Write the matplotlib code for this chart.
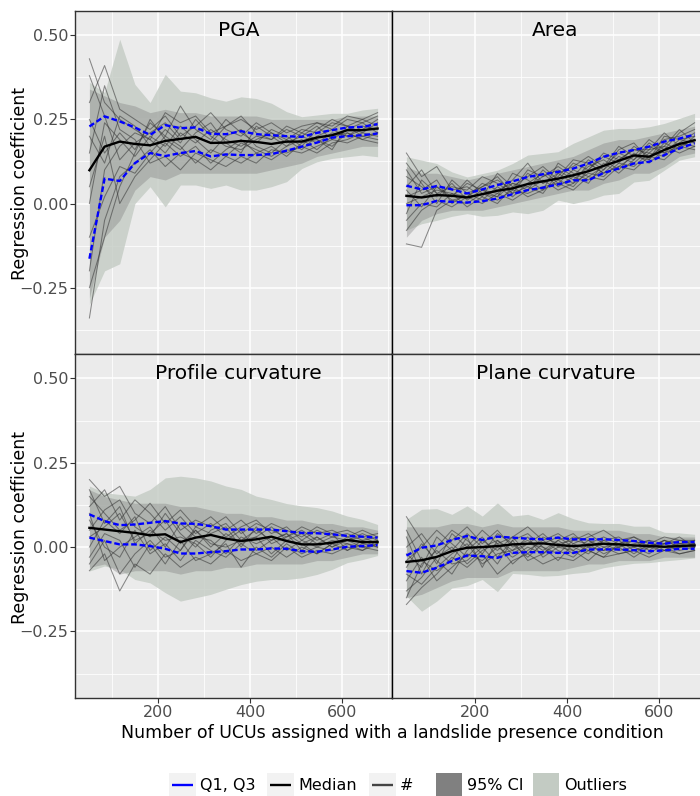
#!/usr/bin/env python3
"""
Regression coefficient vs. number of UCUs with a landslide presence
condition, four facets (ggplot-like look), saved as out.png.
"""

import matplotlib

matplotlib.use("Agg")
import matplotlib.pyplot as plt
from matplotlib.patches import Rectangle

# ============================================================================
# DATA -- values
# ============================================================================

n_ucus = [50, 83, 116, 149, 182, 215, 248, 281, 314, 347,
          380, 413, 446, 479, 512, 545, 578, 611, 644, 677]

# --- PGA ---
pga_median = [0.099, 0.169, 0.184, 0.177, 0.173, 0.186, 0.192, 0.198, 0.180, 0.181,
              0.186, 0.183, 0.177, 0.184, 0.184, 0.196, 0.203, 0.218, 0.218, 0.223]
pga_q3 = [0.229, 0.259, 0.244, 0.226, 0.204, 0.233, 0.224, 0.226, 0.207, 0.206,
          0.215, 0.206, 0.203, 0.200, 0.198, 0.210, 0.218, 0.226, 0.228, 0.236]
pga_q1 = [-0.164, 0.074, 0.067, 0.120, 0.150, 0.141, 0.150, 0.156, 0.140, 0.146,
          0.144, 0.144, 0.147, 0.157, 0.169, 0.181, 0.196, 0.200, 0.203, 0.208]
pga_out_hi = [0.36, 0.33, 0.488, 0.354, 0.30, 0.384, 0.334, 0.329, 0.314, 0.304,
              0.317, 0.312, 0.298, 0.273, 0.258, 0.263, 0.268, 0.268, 0.278, 0.283]
pga_out_lo = [-0.30, -0.20, -0.179, 0.0, 0.05, -0.01, 0.055, 0.055, 0.045, 0.055,
              0.04, 0.04, 0.05, 0.065, 0.104, 0.124, 0.134, 0.139, 0.144, 0.139]
pga_ci_hi = [0.34, 0.32, 0.30, 0.29, 0.27, 0.28, 0.27, 0.27, 0.26, 0.26,
             0.26, 0.26, 0.25, 0.25, 0.25, 0.25, 0.25, 0.26, 0.26, 0.26]
pga_ci_lo = [-0.28, -0.10, -0.05, 0.04, 0.08, 0.07, 0.09, 0.09, 0.09, 0.09,
             0.09, 0.09, 0.10, 0.11, 0.12, 0.14, 0.15, 0.16, 0.17, 0.17]
pga_runs = [
    [0.43, 0.30, 0.25, 0.22, 0.19, 0.27, 0.24, 0.26, 0.21, 0.23, 0.25, 0.22, 0.24, 0.21, 0.23, 0.24, 0.23, 0.26, 0.25, 0.27],
    [-0.34, -0.05, 0.08, 0.12, 0.16, 0.11, 0.15, 0.13, 0.10, 0.14, 0.12, 0.15, 0.13, 0.16, 0.15, 0.17, 0.19, 0.18, 0.20, 0.19],
    [0.30, 0.41, 0.28, 0.25, 0.22, 0.26, 0.20, 0.23, 0.27, 0.22, 0.20, 0.24, 0.21, 0.19, 0.22, 0.21, 0.24, 0.23, 0.25, 0.23],
    [0.05, 0.20, 0.00, 0.08, 0.13, 0.18, 0.14, 0.17, 0.12, 0.16, 0.19, 0.15, 0.17, 0.14, 0.18, 0.19, 0.17, 0.21, 0.19, 0.21],
    [-0.20, 0.10, 0.17, 0.21, 0.19, 0.15, 0.21, 0.18, 0.22, 0.19, 0.17, 0.20, 0.19, 0.22, 0.20, 0.18, 0.21, 0.20, 0.23, 0.22],
    [0.25, 0.15, 0.21, 0.16, 0.24, 0.20, 0.29, 0.22, 0.19, 0.25, 0.21, 0.18, 0.22, 0.20, 0.17, 0.22, 0.25, 0.23, 0.21, 0.24],
    [0.15, 0.35, 0.22, 0.19, 0.12, 0.14, 0.10, 0.15, 0.13, 0.11, 0.14, 0.12, 0.16, 0.15, 0.17, 0.15, 0.18, 0.19, 0.21, 0.20],
    [0.38, 0.26, 0.13, 0.18, 0.21, 0.24, 0.19, 0.20, 0.18, 0.23, 0.26, 0.21, 0.19, 0.23, 0.21, 0.24, 0.22, 0.25, 0.24, 0.26],
    [-0.10, 0.02, 0.11, 0.09, 0.15, 0.20, 0.17, 0.12, 0.16, 0.14, 0.18, 0.16, 0.14, 0.17, 0.19, 0.16, 0.20, 0.21, 0.19, 0.18],
    [0.20, 0.12, 0.26, 0.23, 0.17, 0.22, 0.18, 0.25, 0.20, 0.17, 0.16, 0.19, 0.21, 0.18, 0.20, 0.23, 0.19, 0.22, 0.24, 0.21],
    [0.00, 0.24, 0.19, 0.14, 0.20, 0.17, 0.23, 0.19, 0.15, 0.20, 0.22, 0.17, 0.15, 0.19, 0.16, 0.20, 0.22, 0.20, 0.22, 0.25],
    [-0.25, -0.10, 0.05, 0.15, 0.25, 0.19, 0.16, 0.21, 0.24, 0.18, 0.15, 0.23, 0.20, 0.17, 0.21, 0.19, 0.16, 0.23, 0.20, 0.21],
]

# --- Area ---
area_median = [0.023, 0.018, 0.025, 0.023, 0.018, 0.028, 0.038, 0.045, 0.058, 0.066,
               0.074, 0.084, 0.096, 0.112, 0.127, 0.143, 0.139, 0.159, 0.177, 0.188]
area_q3 = [0.053, 0.042, 0.052, 0.042, 0.030, 0.042, 0.055, 0.066, 0.079, 0.087,
           0.094, 0.104, 0.119, 0.139, 0.151, 0.159, 0.169, 0.184, 0.193, 0.205]
area_q1 = [-0.005, -0.005, 0.008, 0.005, 0.003, 0.007, 0.015, 0.028, 0.040, 0.047,
           0.057, 0.069, 0.069, 0.091, 0.104, 0.119, 0.124, 0.144, 0.164, 0.179]
area_out_hi = [0.139, 0.129, 0.119, 0.094, 0.079, 0.089, 0.099, 0.119, 0.144, 0.149,
               0.154, 0.179, 0.198, 0.218, 0.223, 0.223, 0.228, 0.238, 0.253, 0.268]
area_out_lo = [-0.079, -0.06, -0.05, -0.038, -0.03, -0.038, -0.035, -0.025, -0.03, -0.02,
               0.01, 0.0, 0.01, 0.025, 0.03, 0.064, 0.069, 0.099, 0.129, 0.139]
area_ci_hi = [0.11, 0.09, 0.09, 0.08, 0.07, 0.08, 0.09, 0.10, 0.11, 0.12,
              0.13, 0.14, 0.16, 0.18, 0.19, 0.19, 0.20, 0.21, 0.22, 0.23]
area_ci_lo = [-0.10, -0.05, -0.03, -0.02, -0.02, -0.02, -0.01, 0.00, 0.01, 0.02,
              0.03, 0.04, 0.04, 0.06, 0.07, 0.09, 0.09, 0.11, 0.14, 0.15]
area_runs = [
    [0.15, 0.08, 0.11, 0.04, 0.05, 0.02, 0.09, 0.05, 0.08, 0.11, 0.07, 0.12, 0.10, 0.15, 0.13, 0.16, 0.15, 0.19, 0.20, 0.22],
    [-0.12, -0.13, -0.02, 0.01, 0.00, 0.03, 0.01, 0.04, 0.03, 0.05, 0.06, 0.04, 0.08, 0.07, 0.11, 0.10, 0.14, 0.13, 0.17, 0.16],
    [0.08, 0.05, 0.02, 0.06, 0.01, 0.04, 0.03, 0.07, 0.12, 0.06, 0.09, 0.11, 0.14, 0.11, 0.17, 0.14, 0.13, 0.18, 0.16, 0.20],
    [0.02, 0.04, 0.07, 0.00, 0.03, 0.01, 0.05, 0.02, 0.06, 0.09, 0.05, 0.08, 0.06, 0.12, 0.09, 0.13, 0.17, 0.15, 0.19, 0.18],
    [-0.05, 0.00, -0.01, 0.03, 0.02, 0.06, 0.04, 0.06, 0.05, 0.08, 0.10, 0.07, 0.11, 0.13, 0.10, 0.15, 0.12, 0.16, 0.18, 0.21],
    [0.10, 0.03, 0.05, 0.02, 0.07, 0.03, 0.02, 0.09, 0.07, 0.04, 0.12, 0.09, 0.07, 0.10, 0.14, 0.12, 0.16, 0.21, 0.17, 0.19],
    [-0.08, -0.02, 0.01, -0.01, 0.02, 0.00, 0.03, 0.01, 0.04, 0.07, 0.04, 0.06, 0.09, 0.08, 0.12, 0.17, 0.14, 0.17, 0.15, 0.17],
    [0.05, 0.10, 0.03, 0.05, 0.04, 0.08, 0.06, 0.03, 0.09, 0.06, 0.08, 0.13, 0.12, 0.09, 0.11, 0.14, 0.19, 0.16, 0.21, 0.24],
    [0.00, 0.02, 0.04, 0.03, -0.01, 0.02, 0.00, 0.05, 0.02, 0.04, 0.07, 0.05, 0.10, 0.14, 0.12, 0.11, 0.15, 0.14, 0.18, 0.17],
    [0.12, 0.06, 0.00, 0.07, 0.03, 0.05, 0.07, 0.04, 0.10, 0.08, 0.11, 0.08, 0.13, 0.10, 0.16, 0.18, 0.13, 0.20, 0.19, 0.20],
    [-0.03, 0.07, 0.03, 0.02, 0.06, 0.04, 0.02, 0.06, 0.04, 0.10, 0.06, 0.10, 0.08, 0.11, 0.15, 0.13, 0.18, 0.15, 0.17, 0.19],
    [0.04, -0.01, 0.05, 0.01, 0.02, 0.05, 0.08, 0.03, 0.05, 0.03, 0.09, 0.06, 0.12, 0.09, 0.13, 0.16, 0.16, 0.17, 0.22, 0.18],
]

# --- Profile curvature ---
prof_median = [0.057, 0.052, 0.047, 0.042, 0.035, 0.038, 0.015, 0.028, 0.036, 0.025,
               0.018, 0.023, 0.031, 0.018, 0.008, 0.008, 0.013, 0.021, 0.015, 0.015]
prof_q3 = [0.097, 0.077, 0.065, 0.067, 0.072, 0.077, 0.070, 0.069, 0.062, 0.052,
           0.052, 0.052, 0.052, 0.047, 0.042, 0.041, 0.038, 0.033, 0.031, 0.028]
prof_q1 = [0.028, 0.018, 0.008, 0.008, 0.003, -0.005, -0.019, -0.019, -0.015, -0.012,
           -0.007, -0.007, -0.004, -0.005, -0.012, -0.014, -0.007, 0.001, 0.003, 0.006]
prof_out_hi = [0.181, 0.161, 0.156, 0.151, 0.171, 0.205, 0.210, 0.205, 0.196, 0.181,
               0.171, 0.151, 0.141, 0.129, 0.122, 0.117, 0.107, 0.092, 0.082, 0.067]
prof_out_lo = [-0.071, -0.056, -0.066, -0.096, -0.106, -0.135, -0.160, -0.150, -0.140, -0.125,
               -0.111, -0.101, -0.096, -0.096, -0.091, -0.081, -0.066, -0.046, -0.037, -0.025]
prof_ci_hi = [0.17, 0.15, 0.14, 0.13, 0.13, 0.13, 0.12, 0.12, 0.11, 0.10,
              0.10, 0.09, 0.09, 0.08, 0.08, 0.07, 0.07, 0.06, 0.06, 0.05]
prof_ci_lo = [-0.06, -0.05, -0.08, -0.07, -0.07, -0.07, -0.08, -0.07, -0.07, -0.06,
              -0.06, -0.05, -0.05, -0.05, -0.05, -0.04, -0.04, -0.03, -0.02, -0.02]
prof_runs = [
    [0.20, 0.15, 0.18, 0.10, 0.07, 0.12, 0.05, 0.08, 0.06, 0.09, 0.04, 0.07, 0.05, 0.03, 0.06, 0.04, 0.05, 0.03, 0.05, 0.03],
    [-0.07, -0.02, -0.13, -0.05, -0.08, -0.02, -0.06, -0.03, -0.05, -0.01, -0.04, -0.02, -0.04, 0.00, -0.03, -0.01, -0.02, 0.00, -0.01, 0.01],
    [0.12, 0.17, 0.08, 0.14, 0.10, 0.05, 0.09, 0.04, 0.07, 0.03, 0.06, 0.08, 0.04, 0.06, 0.02, 0.05, 0.03, 0.04, 0.02, 0.03],
    [0.03, 0.06, 0.10, 0.02, 0.04, 0.08, 0.01, 0.05, 0.00, 0.04, 0.01, 0.03, 0.06, 0.02, 0.04, 0.01, 0.03, 0.02, 0.04, 0.02],
    [0.08, 0.00, -0.03, 0.05, -0.02, 0.01, -0.04, 0.02, -0.01, -0.03, 0.01, -0.02, 0.00, -0.03, 0.00, -0.02, 0.01, -0.01, 0.01, 0.00],
    [0.15, 0.10, 0.05, 0.08, 0.13, 0.07, 0.11, 0.06, 0.09, 0.05, 0.08, 0.04, 0.07, 0.05, 0.03, 0.06, 0.04, 0.05, 0.03, 0.04],
    [-0.03, 0.04, 0.02, -0.06, 0.01, -0.05, 0.02, -0.04, -0.02, 0.01, -0.06, 0.00, -0.03, 0.01, -0.02, 0.00, -0.01, 0.01, 0.00, 0.01],
    [0.05, 0.11, 0.14, 0.06, 0.03, 0.10, 0.04, 0.00, 0.05, 0.07, 0.02, 0.05, 0.02, 0.04, 0.01, 0.03, 0.00, 0.02, 0.03, 0.01],
    [0.10, -0.04, 0.00, 0.03, 0.06, 0.00, 0.07, 0.03, 0.02, -0.02, 0.03, 0.01, 0.03, -0.01, 0.02, 0.00, 0.02, 0.01, -0.01, 0.02],
    [0.00, 0.08, 0.04, 0.09, -0.01, 0.03, -0.01, 0.06, 0.04, 0.06, 0.00, 0.06, 0.01, 0.03, 0.05, 0.02, 0.04, -0.01, 0.02, 0.00],
    [0.17, 0.07, 0.12, 0.01, 0.05, 0.02, 0.03, 0.01, -0.03, 0.02, 0.05, -0.01, 0.02, 0.04, -0.01, 0.03, 0.00, 0.03, 0.01, 0.02],
    [-0.05, 0.02, -0.08, -0.02, 0.02, -0.03, -0.01, 0.05, 0.01, 0.00, 0.02, 0.03, -0.02, 0.02, 0.01, -0.02, 0.01, 0.02, 0.00, -0.01],
]

# --- Plane curvature ---
plan_median = [-0.044, -0.039, -0.029, -0.012, -0.002, 0.000, 0.003, 0.008, 0.010, 0.011,
               0.006, 0.003, 0.006, 0.010, 0.008, 0.005, 0.003, 0.001, 0.003, 0.005]
plan_q3 = [-0.025, -0.002, 0.005, 0.021, 0.033, 0.021, 0.031, 0.028, 0.025, 0.023,
           0.028, 0.023, 0.023, 0.023, 0.021, 0.018, 0.013, 0.010, 0.015, 0.015]
plan_q1 = [-0.071, -0.076, -0.061, -0.041, -0.025, -0.027, -0.032, -0.017, -0.015, -0.015,
           -0.017, -0.017, -0.007, -0.007, -0.007, -0.009, -0.012, -0.010, -0.005, -0.005]
plan_out_hi = [0.082, 0.112, 0.114, 0.097, 0.122, 0.092, 0.131, 0.092, 0.097, 0.082,
               0.102, 0.084, 0.072, 0.070, 0.070, 0.062, 0.062, 0.044, 0.042, 0.038]
plan_out_lo = [-0.145, -0.190, -0.160, -0.121, -0.114, -0.096, -0.132, -0.078, -0.081, -0.086,
               -0.084, -0.078, -0.074, -0.061, -0.054, -0.048, -0.046, -0.041, -0.037, -0.032]
plan_ci_hi = [0.06, 0.06, 0.06, 0.07, 0.07, 0.06, 0.07, 0.06, 0.06, 0.06,
              0.06, 0.05, 0.05, 0.05, 0.05, 0.04, 0.04, 0.03, 0.03, 0.03]
plan_ci_lo = [-0.15, -0.14, -0.12, -0.10, -0.09, -0.09, -0.09, -0.07, -0.07, -0.07,
              -0.07, -0.06, -0.05, -0.05, -0.04, -0.04, -0.04, -0.03, -0.03, -0.03]
plan_runs = [
    [0.09, 0.02, -0.05, 0.04, 0.00, 0.05, 0.01, 0.03, 0.06, 0.02, 0.04, 0.01, 0.03, 0.05, 0.02, 0.03, 0.01, 0.03, 0.02, 0.02],
    [-0.17, -0.12, -0.08, -0.03, -0.06, -0.02, -0.08, -0.04, -0.02, -0.05, -0.03, -0.04, -0.01, -0.03, -0.02, -0.01, -0.03, -0.01, -0.02, -0.01],
    [-0.02, -0.06, 0.03, -0.01, 0.04, 0.00, 0.02, -0.01, 0.01, 0.04, 0.00, 0.03, 0.02, 0.00, 0.01, 0.03, 0.00, 0.02, 0.00, 0.01],
    [-0.10, -0.03, -0.10, -0.06, -0.02, -0.04, 0.00, -0.03, 0.00, -0.02, 0.01, -0.02, 0.00, -0.01, 0.02, -0.01, 0.01, 0.00, 0.01, 0.00],
    [0.03, -0.08, 0.00, 0.05, 0.02, -0.02, 0.04, 0.01, -0.03, 0.01, 0.03, 0.00, -0.02, 0.02, 0.00, 0.01, 0.02, -0.01, 0.01, 0.02],
    [-0.06, 0.01, -0.04, -0.08, -0.01, 0.03, -0.03, 0.02, 0.04, 0.00, -0.02, 0.02, 0.04, 0.01, -0.01, 0.00, -0.02, 0.01, 0.03, 0.00],
    [-0.13, -0.09, -0.03, 0.00, -0.05, -0.01, 0.01, -0.05, -0.01, 0.02, -0.01, -0.03, 0.01, -0.02, 0.00, 0.02, 0.00, -0.01, 0.00, 0.01],
    [0.00, 0.04, -0.02, 0.02, 0.06, 0.01, 0.05, 0.00, 0.02, -0.01, 0.02, 0.04, 0.00, 0.02, 0.03, 0.00, 0.02, 0.01, 0.02, 0.01],
    [-0.08, -0.11, -0.06, -0.02, 0.01, -0.05, -0.02, -0.01, 0.03, -0.03, 0.00, -0.01, -0.04, 0.00, -0.02, -0.01, 0.00, 0.01, -0.01, 0.00],
    [-0.04, 0.00, 0.05, 0.01, -0.03, 0.02, -0.01, 0.03, -0.02, 0.03, 0.01, 0.02, 0.01, 0.03, 0.01, 0.02, -0.01, 0.02, 0.01, 0.01],
    [0.05, -0.04, -0.07, -0.04, 0.03, -0.06, 0.02, -0.02, 0.01, 0.00, -0.04, 0.01, -0.01, -0.03, 0.01, -0.02, 0.01, 0.00, -0.02, -0.01],
    [-0.15, -0.05, -0.01, -0.05, -0.04, 0.00, -0.05, 0.02, -0.04, -0.02, 0.02, -0.01, 0.02, -0.01, 0.00, -0.03, 0.00, 0.02, 0.00, 0.00],
]

panel_titles = ["PGA", "Area", "Profile curvature", "Plane curvature"]
y_ticks = [-0.25, 0.0, 0.25, 0.50]
x_ticks = [200, 400, 600]
legend_labels = ["Q1, Q3", "Median", "#", "95% CI", "Outliers"]

# ============================================================================
# STYLE
# ============================================================================

W, H = 700, 796
PANEL_BG = "#ebebeb"
OUTLIER_COLOR = "#c3cbc3"
CI_COLOR = "#808080"
RUN_COLOR = "#333333"
TICK_COLOR = "#4d4d4d"
XLIM = (18.65, 708.35)
YLIM = (-0.447, 0.572)

# Panel boxes in pixels: (left, top, right, bottom). Right column runs
# past the figure edge, as in the reference (it is cropped there).
PANEL_PX = [
    (75, 11, 392, 354),
    (392, 11, 709, 354),
    (75, 354, 392, 698),
    (392, 354, 709, 698),
]


def px_rect(left, top, right, bottom):
    return [left / W, 1 - bottom / H, (right - left) / W, (bottom - top) / H]


def draw_panel(ax, title, median, q1, q3, out_lo, out_hi, ci_lo, ci_hi, runs,
               show_x, show_y):
    ax.set_facecolor(PANEL_BG)
    ax.set_xlim(*XLIM)
    ax.set_ylim(*YLIM)

    ax.set_xticks(x_ticks)
    ax.set_xticks([100, 300, 500, 700], minor=True)
    ax.set_yticks(y_ticks)
    ax.set_yticks([-0.375, -0.125, 0.125, 0.375], minor=True)
    ax.grid(True, which="major", color="white", linewidth=1.1)
    ax.grid(True, which="minor", color="white", linewidth=0.55)
    ax.set_axisbelow(True)

    ax.tick_params(which="minor", length=0)
    ax.tick_params(which="major", length=3.5, width=0.8, color="#333333",
                   labelcolor=TICK_COLOR, labelsize=11.5, pad=1.5)
    if show_y:
        ax.set_yticklabels([f"{v:.2f}".replace("-", "\u2212") for v in y_ticks])
    else:
        ax.tick_params(axis="y", which="major", length=0, labelleft=False)
    if show_x:
        ax.set_xticklabels([str(v) for v in x_ticks])
    else:
        ax.tick_params(axis="x", which="major", length=0, labelbottom=False)

    for s in ax.spines.values():
        s.set_color("#333333")
        s.set_linewidth(1.0)
    if not show_y:
        ax.spines["left"].set_color("black")

    ax.fill_between(n_ucus, out_lo, out_hi, color=OUTLIER_COLOR, alpha=0.8,
                    linewidth=0, zorder=1)
    ax.fill_between(n_ucus, ci_lo, ci_hi, color=CI_COLOR, alpha=0.38,
                    linewidth=0, zorder=2)
    for run in runs:
        ax.plot(n_ucus, run, color=RUN_COLOR, alpha=0.55, linewidth=0.75, zorder=3)
    ax.plot(n_ucus, median, color="black", linewidth=1.7, zorder=5)
    ax.plot(n_ucus, q1, color="blue", linewidth=1.7, dashes=(2.4, 1.2), zorder=6)
    ax.plot(n_ucus, q3, color="blue", linewidth=1.7, dashes=(2.4, 1.2), zorder=6)

    ax.text(0.5 + 5 / 317, 1 - 19 / 343, title, transform=ax.transAxes,
            ha="center", va="center", fontsize=14.5, color="black", zorder=10)


def main():
    fig = plt.figure(figsize=(W / 100, H / 100), dpi=100)

    panels = [
        (pga_median, pga_q1, pga_q3, pga_out_lo, pga_out_hi, pga_ci_lo, pga_ci_hi, pga_runs),
        (area_median, area_q1, area_q3, area_out_lo, area_out_hi, area_ci_lo, area_ci_hi, area_runs),
        (prof_median, prof_q1, prof_q3, prof_out_lo, prof_out_hi, prof_ci_lo, prof_ci_hi, prof_runs),
        (plan_median, plan_q1, plan_q3, plan_out_lo, plan_out_hi, plan_ci_lo, plan_ci_hi, plan_runs),
    ]
    for i, (box, title, data) in enumerate(zip(PANEL_PX, panel_titles, panels)):
        ax = fig.add_axes(px_rect(*box))
        draw_panel(ax, title, *data, show_x=(i >= 2), show_y=(i % 2 == 0))

    # Overlay in pixel coordinates for labels and the legend.
    ov = fig.add_axes([0, 0, 1, 1], zorder=20)
    ov.set_xlim(0, W)
    ov.set_ylim(H, 0)
    ov.axis("off")

    ov.text(20, 183, "Regression coefficient", rotation=90, ha="center",
            va="center", fontsize=12.5)
    ov.text(20, 527, "Regression coefficient", rotation=90, ha="center",
            va="center", fontsize=12.5)
    ov.text(392, 733, "Number of UCUs assigned with a landslide presence condition",
            ha="center", va="center", fontsize=12.5)

    # Legend (bottom, horizontal).
    key_top, key_h, mid_y = 773, 26, 785
    line_keys = [(169, "blue", legend_labels[0]),
                 (267, "black", legend_labels[1]),
                 (369, "#444444", legend_labels[2])]
    for x0, col, lab in line_keys:
        ov.add_patch(Rectangle((x0, key_top), 27, key_h, facecolor="#f2f2f2",
                               edgecolor="none"))
        ov.plot([x0 + 3, x0 + 24], [mid_y, mid_y], color=col, linewidth=1.7,
                solid_capstyle="butt")
        ov.text(x0 + 31, mid_y, lab, ha="left", va="center", fontsize=11.5)
    fill_keys = [(436, CI_COLOR, legend_labels[3]),
                 (533, OUTLIER_COLOR, legend_labels[4])]
    for x0, col, lab in fill_keys:
        ov.add_patch(Rectangle((x0, key_top), 26, key_h, facecolor=col,
                               edgecolor="none"))
        ov.text(x0 + 31, mid_y, lab, ha="left", va="center", fontsize=11.5)

    fig.savefig("out.png", dpi=100)


if __name__ == "__main__":
    main()
